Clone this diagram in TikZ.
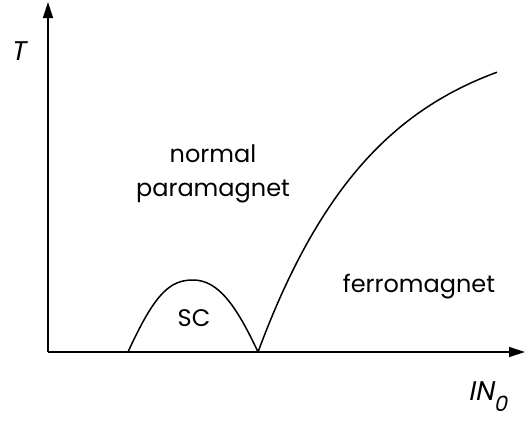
\documentclass[tikz,border=0pt]{standalone}
\usepackage{fontspec}
\setmainfont{Poppins}
\newfontfamily\slfont[FakeSlant=0.2]{Poppins}
\usetikzlibrary{arrows.meta}
\begin{document}
\begin{tikzpicture}[x=1pt,y=-1pt,
  axis/.style={line width=1.3pt,-{Triangle[length=16pt,width=10pt]}},
  curve/.style={line width=1.5pt},
  lbl/.style={font=\fontsize{24}{29}\selectfont, inner sep=0pt},
  ilbl/.style={font=\fontsize{27}{32}\selectfont\slfont, inner sep=0pt}]
\useasboundingbox (0,0) rectangle (525,421);
\coordinate (O) at (48,352);
\coordinate (Ytop) at (48,2);
\coordinate (Xend) at (525,352);
\draw[axis] (O) -- (Ytop);
\draw[axis] (O) -- (Xend);
\coordinate (s1) at (128,352);
\coordinate (s2) at (258,352);
\draw[curve] (s1) .. controls (155,293) and (170,280) .. (193,280)
  .. controls (218,280) and (236,305) .. (s2);
\draw[curve, shift={(258,352)}] plot[domain=0:239, samples=80] (\x, {-324*(1-exp(-\x/120))});
\node[lbl] (normal) at (213,154) {normal};
\node[lbl] (para) at (213,192) {paramagnet};
\node[lbl] (ferro) at (419,287) {ferromagnet};
\node[lbl] (sc) at (194,318) {SC};
\node[ilbl] (T) at (18,51) {T};
\node[ilbl, anchor=base west] (IN) at (468,400) {IN\raisebox{-11pt}{\fontsize{21}{24}\selectfont 0}};
\end{tikzpicture}
\end{document}
